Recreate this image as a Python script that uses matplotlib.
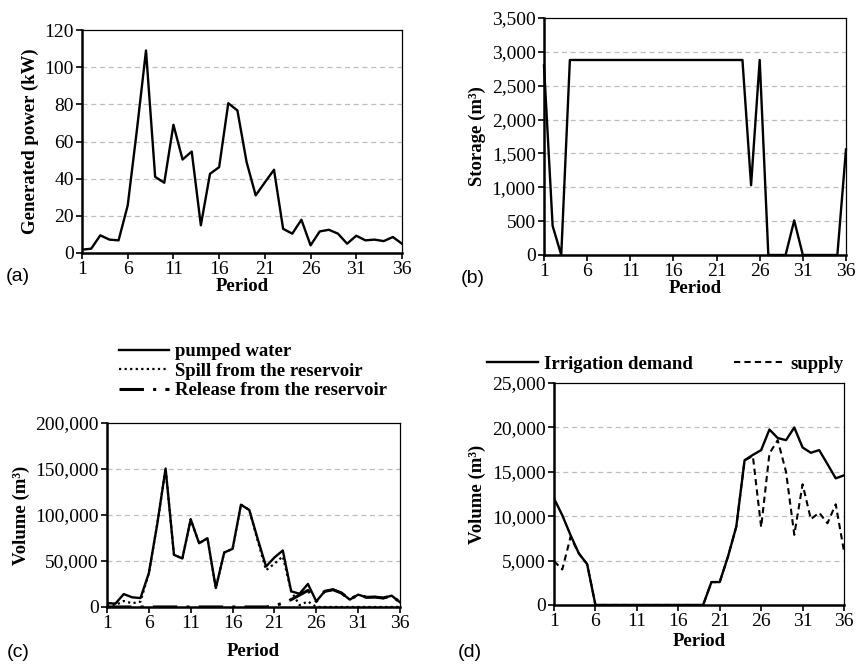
import matplotlib
matplotlib.use('Agg')
import matplotlib.pyplot as plt
import matplotlib.ticker as ticker
import numpy as np

# ── Data ────────────────────────────────────────────────────────────────────────
periods = list(range(1, 37))

power_kw = [1.8, 2.3, 9.5, 7.2, 6.8, 25.6, 66, 109, 41, 37.8,
            69, 50.3, 54.6, 14.9, 42.6, 46.2, 80.6, 76.7, 49, 31,
            38, 44.8, 13, 10.4, 17.9, 4.1, 11.6, 12.5, 10.4, 5,
            9.3, 6.8, 7.2, 6.4, 8.6, 5]

storage_m3 = [2800, 430, 0, 2880, 2880, 2880, 2880, 2880, 2880, 2880,
              2880, 2880, 2880, 2880, 2880, 2880, 2880, 2880, 2880, 2880,
              2880, 2880, 2880, 2880, 1030, 2880, 0, 0, 0, 510,
              0, 0, 0, 0, 0, 1560]

pumped = [4300, 3600, 14000, 10500, 9700, 36800, 90000, 150500, 56700, 52700,
          95300, 69300, 74700, 20600, 59200, 63200, 111200, 105400, 74000, 44000,
          53800, 61400, 17000, 14400, 25000, 6100, 17000, 18800, 15200, 8000,
          13400, 10500, 10800, 9700, 12300, 5100]

spill = [2000, 2000, 6500, 4000, 5800, 36800, 90000, 150500, 56700, 52700,
         95300, 69300, 74700, 20600, 59200, 63200, 111200, 105400, 72000, 40000,
         47000, 55000, 17000, 2000, 6000, 0, 0, 0, 0, 0,
         0, 0, 0, 0, 0, 0]

release = [0, 0, 0, 0, 0, 0, 0, 0, 0, 0,
           0, 0, 0, 0, 0, 0, 0, 0, 0, 0,
           1500, 4000, 8000, 13000, 18000, 6100, 17000, 18800, 15200, 8000,
           13400, 10500, 10800, 9700, 12300, 5100]

demand = [12000, 10100, 7860, 5800, 4600, 0, 0, 0, 0, 0,
          0, 0, 0, 0, 0, 0, 0, 0, 0, 2580,
          2580, 5460, 8830, 16300, 16900, 17440, 19760, 18800, 18560, 19985,
          17740, 17140, 17440, 15870, 14260, 14600]

supply = [4940, 4000, 7670, 5800, 4600, 0, 0, 0, 0, 0,
          0, 0, 0, 0, 0, 0, 0, 0, 0, 2580,
          2580, 5460, 8830, 16300, 16770, 8760, 17070, 18560, 15000, 7900,
          13590, 9660, 10400, 9200, 11340, 6030]

x_ticks = [1, 6, 11, 16, 21, 26, 31, 36]

# ── Style ───────────────────────────────────────────────────────────────────────
SERIF = ['Liberation Serif', 'DejaVu Serif']
SANS = ['Liberation Sans', 'DejaVu Sans']
TICK_FS = 14
LABEL_FS = 13.5
LW = 1.7

plt.rcParams.update({
    'font.family': SERIF,
    'font.size': TICK_FS,
    'xtick.labelsize': TICK_FS,
    'ytick.labelsize': TICK_FS,
    'xtick.direction': 'out',
    'ytick.direction': 'out',
    'xtick.major.size': 4,
    'ytick.major.size': 4,
    'xtick.major.width': 1.2,
    'ytick.major.width': 1.2,
})

comma = ticker.FuncFormatter(lambda v, p: format(int(v), ','))


def style_axes(ax, ymax, ystep, ylabel, fmt=None, xpad=0):
    ax.set_xlim(1, 36)
    ax.set_ylim(0, ymax)
    ax.set_xticks(x_ticks)
    ax.set_yticks(np.arange(0, ymax + ystep / 2, ystep))
    if fmt is not None:
        ax.yaxis.set_major_formatter(fmt)
    for y in np.arange(ystep, ymax - ystep / 2, ystep):
        ax.axhline(y, color='#bdbdbd', lw=0.9, ls=(0, (4, 3)), zorder=0)
    ax.spines['left'].set_linewidth(1.8)
    ax.spines['bottom'].set_linewidth(1.8)
    ax.spines['top'].set_linewidth(0.9)
    ax.spines['right'].set_linewidth(0.9)
    ax.tick_params(axis='both', pad=2)
    ax.set_xlabel('Period', fontsize=LABEL_FS, fontweight='bold', labelpad=xpad)
    ax.set_ylabel(ylabel, fontsize=LABEL_FS, fontweight='bold', labelpad=4)


fig = plt.figure(figsize=(8.56, 6.67), dpi=100)

ax_a = fig.add_axes([0.0958, 0.6207, 0.3738, 0.3343])
ax_b = fig.add_axes([0.6355, 0.6177, 0.3528, 0.3553])
ax_c = fig.add_axes([0.125, 0.090, 0.3423, 0.2758])
ax_d = fig.add_axes([0.6472, 0.093, 0.3388, 0.3328])

# (a)
ax_a.plot(periods, power_kw, color='black', lw=LW, zorder=3)
style_axes(ax_a, 120, 20, 'Generated power (kW)')

# (b)
ax_b.plot(periods, storage_m3, color='black', lw=LW, zorder=3, clip_on=False)
style_axes(ax_b, 3500, 500, 'Storage (m³)', comma)

# (c)
ax_c.plot(periods, release, color='black', lw=2.2, ls=(0, (8, 3, 1, 3)), zorder=3,
          label='Release from the reservoir')
ax_c.plot(periods, spill, color='black', lw=1.6, ls=(0, (1, 1.5)), zorder=4,
          label='Spill from the reservoir')
ax_c.plot(periods, pumped, color='black', lw=LW, zorder=5, label='pumped water')
style_axes(ax_c, 200000, 50000, 'Volume (m³)', comma, xpad=8)
h, l = ax_c.get_legend_handles_labels()
ax_c.legend(h[::-1], l[::-1], loc='lower left', bbox_to_anchor=(0.04, 1.13),
            frameon=False, prop={'family': SERIF, 'weight': 'bold', 'size': LABEL_FS},
            handlelength=2.7, handletextpad=0.3, labelspacing=0.12,
            borderaxespad=0, borderpad=0)

# (d)
ax_d.plot(periods, demand, color='black', lw=LW, zorder=4, label='Irrigation demand')
ax_d.plot(periods, supply, color='black', lw=1.5, ls=(0, (3, 2)), zorder=3, label='supply')
style_axes(ax_d, 25000, 5000, 'Volume (m³)', comma, xpad=2)
ax_d.legend(loc='lower left', bbox_to_anchor=(-0.23, 1.045), ncol=2, frameon=False,
            prop={'family': SERIF, 'weight': 'bold', 'size': LABEL_FS},
            handlelength=2.7, handletextpad=0.3, columnspacing=2.2,
            borderaxespad=0, borderpad=0)

# panel tags
for tag, x, y in [('(a)', 0.021, 0.585), ('(b)', 0.552, 0.583),
                  ('(c)', 0.021, 0.022), ('(d)', 0.549, 0.022)]:
    fig.text(x, y, tag, family=SANS, fontsize=14, ha='center', va='center')

fig.savefig('out.png', dpi=100)
